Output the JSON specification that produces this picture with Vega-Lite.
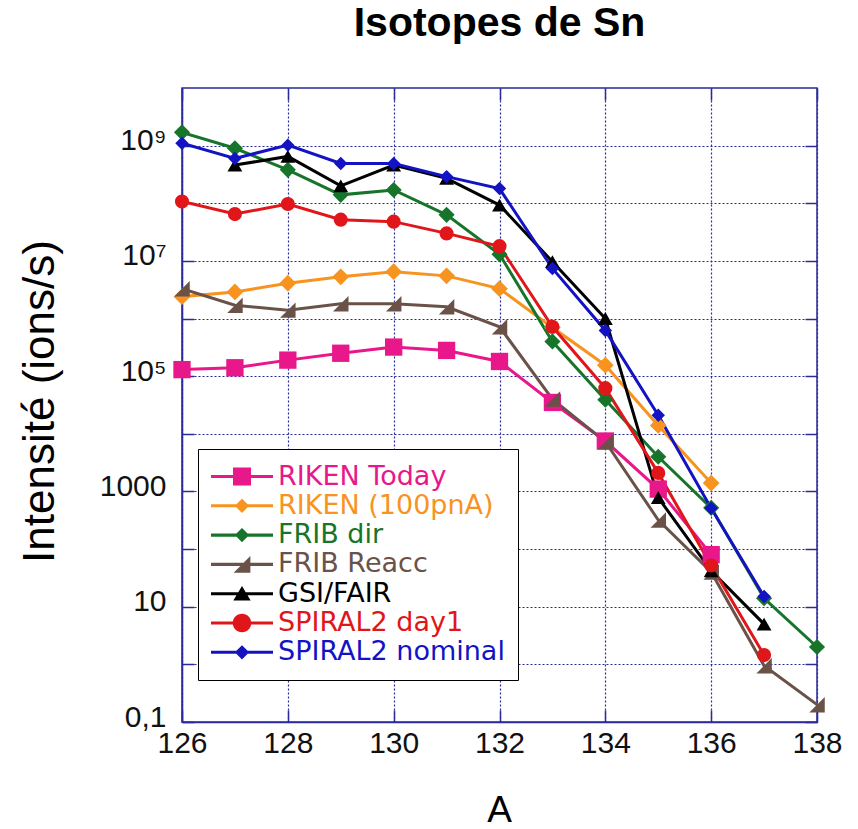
{
  "$schema": "https://vega.github.io/schema/vega-lite/v6.json",
  "autosize": {"type": "none"},
  "width": 635,
  "height": 634,
  "padding": {"left": 182, "top": 88, "right": 41, "bottom": 107},
  "background": "white",
  "config": {
    "view": {"stroke": "#2a2a9c", "strokeWidth": 1.5},
    "font": "Liberation Sans"
  },
  "title": {
    "text": "Isotopes de Sn",
    "font": "Liberation Sans",
    "fontSize": 41,
    "fontWeight": "bold",
    "color": "#000000",
    "baseline": "alphabetic",
    "anchor": "middle",
    "offset": 10
  },
  "data": {
    "values": [
      {"s": "RIKEN Today", "A": 126, "v": 130000},
      {"s": "RIKEN Today", "A": 127, "v": 140000},
      {"s": "RIKEN Today", "A": 128, "v": 190000},
      {"s": "RIKEN Today", "A": 129, "v": 250000},
      {"s": "RIKEN Today", "A": 130, "v": 320000},
      {"s": "RIKEN Today", "A": 131, "v": 280000},
      {"s": "RIKEN Today", "A": 132, "v": 180000},
      {"s": "RIKEN Today", "A": 133, "v": 35000},
      {"s": "RIKEN Today", "A": 134, "v": 7500},
      {"s": "RIKEN Today", "A": 135, "v": 1100},
      {"s": "RIKEN Today", "A": 136, "v": 80},
      {"s": "RIKEN (100pnA)", "A": 126, "v": 2400000},
      {"s": "RIKEN (100pnA)", "A": 127, "v": 2900000},
      {"s": "RIKEN (100pnA)", "A": 128, "v": 4100000},
      {"s": "RIKEN (100pnA)", "A": 129, "v": 5300000},
      {"s": "RIKEN (100pnA)", "A": 130, "v": 6500000},
      {"s": "RIKEN (100pnA)", "A": 131, "v": 5500000},
      {"s": "RIKEN (100pnA)", "A": 132, "v": 3300000},
      {"s": "RIKEN (100pnA)", "A": 133, "v": 700000},
      {"s": "RIKEN (100pnA)", "A": 134, "v": 155000},
      {"s": "RIKEN (100pnA)", "A": 135, "v": 14000},
      {"s": "RIKEN (100pnA)", "A": 136, "v": 1400},
      {"s": "FRIB dir", "A": 126, "v": 1700000000},
      {"s": "FRIB dir", "A": 127, "v": 900000000},
      {"s": "FRIB dir", "A": 128, "v": 380000000},
      {"s": "FRIB dir", "A": 129, "v": 140000000},
      {"s": "FRIB dir", "A": 130, "v": 170000000},
      {"s": "FRIB dir", "A": 131, "v": 63000000},
      {"s": "FRIB dir", "A": 132, "v": 13000000},
      {"s": "FRIB dir", "A": 133, "v": 400000},
      {"s": "FRIB dir", "A": 134, "v": 39000},
      {"s": "FRIB dir", "A": 135, "v": 4000},
      {"s": "FRIB dir", "A": 136, "v": 520},
      {"s": "FRIB dir", "A": 137, "v": 14},
      {"s": "FRIB dir", "A": 138, "v": 2},
      {"s": "FRIB Reacc", "A": 126, "v": 3300000},
      {"s": "FRIB Reacc", "A": 127, "v": 1700000},
      {"s": "FRIB Reacc", "A": 128, "v": 1400000},
      {"s": "FRIB Reacc", "A": 129, "v": 1800000},
      {"s": "FRIB Reacc", "A": 130, "v": 1800000},
      {"s": "FRIB Reacc", "A": 131, "v": 1600000},
      {"s": "FRIB Reacc", "A": 132, "v": 720000},
      {"s": "FRIB Reacc", "A": 133, "v": 40000},
      {"s": "FRIB Reacc", "A": 134, "v": 7300},
      {"s": "FRIB Reacc", "A": 135, "v": 320},
      {"s": "FRIB Reacc", "A": 136, "v": 40},
      {"s": "FRIB Reacc", "A": 137, "v": 0.95},
      {"s": "FRIB Reacc", "A": 138, "v": 0.2},
      {"s": "GSI/FAIR", "A": 127, "v": 460000000},
      {"s": "GSI/FAIR", "A": 128, "v": 650000000},
      {"s": "GSI/FAIR", "A": 129, "v": 200000000},
      {"s": "GSI/FAIR", "A": 130, "v": 460000000},
      {"s": "GSI/FAIR", "A": 131, "v": 270000000},
      {"s": "GSI/FAIR", "A": 132, "v": 93000000},
      {"s": "GSI/FAIR", "A": 133, "v": 9700000},
      {"s": "GSI/FAIR", "A": 134, "v": 1000000},
      {"s": "GSI/FAIR", "A": 135, "v": 780},
      {"s": "GSI/FAIR", "A": 136, "v": 42},
      {"s": "GSI/FAIR", "A": 137, "v": 5},
      {"s": "SPIRAL2 day1", "A": 126, "v": 107000000},
      {"s": "SPIRAL2 day1", "A": 127, "v": 65000000},
      {"s": "SPIRAL2 day1", "A": 128, "v": 97000000},
      {"s": "SPIRAL2 day1", "A": 129, "v": 52000000},
      {"s": "SPIRAL2 day1", "A": 130, "v": 48000000},
      {"s": "SPIRAL2 day1", "A": 131, "v": 30000000},
      {"s": "SPIRAL2 day1", "A": 132, "v": 18000000},
      {"s": "SPIRAL2 day1", "A": 133, "v": 720000},
      {"s": "SPIRAL2 day1", "A": 134, "v": 62000},
      {"s": "SPIRAL2 day1", "A": 135, "v": 2100},
      {"s": "SPIRAL2 day1", "A": 136, "v": 52},
      {"s": "SPIRAL2 day1", "A": 137, "v": 1.45},
      {"s": "SPIRAL2 nominal", "A": 126, "v": 1100000000},
      {"s": "SPIRAL2 nominal", "A": 127, "v": 600000000},
      {"s": "SPIRAL2 nominal", "A": 128, "v": 1020000000},
      {"s": "SPIRAL2 nominal", "A": 129, "v": 490000000},
      {"s": "SPIRAL2 nominal", "A": 130, "v": 490000000},
      {"s": "SPIRAL2 nominal", "A": 131, "v": 290000000},
      {"s": "SPIRAL2 nominal", "A": 132, "v": 180000000},
      {"s": "SPIRAL2 nominal", "A": 133, "v": 7400000},
      {"s": "SPIRAL2 nominal", "A": 134, "v": 620000},
      {"s": "SPIRAL2 nominal", "A": 135, "v": 21000},
      {"s": "SPIRAL2 nominal", "A": 136, "v": 510},
      {"s": "SPIRAL2 nominal", "A": 137, "v": 15}
    ]
  },
  "resolve": {"axis": {"x": "independent", "y": "independent"}},
  "layer": [
    {
      "mark": {"type": "line", "strokeWidth": 3, "clip": true},
      "encoding": {
        "x": {
          "field": "A", "type": "quantitative",
          "scale": {"domain": [126, 138], "nice": false, "zero": false},
          "axis": {
            "values": [126, 128, 130, 132, 134, 136, 138],
            "title": "A",
            "titleFont": "Liberation Sans",
            "titleFontSize": 37,
            "titleFontWeight": "normal",
            "titleColor": "#000000",
            "titleX": 317,
            "titleY": 99,
            "titleBaseline": "alphabetic",
            "titleAlign": "center",
            "labelFont": "Liberation Sans",
            "labelFontSize": 30,
            "labelColor": "#111111",
            "labelPadding": 18,
            "labelFlush": false,
            "labelOverlap": false,
            "tickSize": -12,
            "tickColor": "#2a2a9c",
            "tickWidth": 1.5,
            "domainColor": "#2a2a9c",
            "domainWidth": 1.5,
            "grid": true,
            "gridColor": "#2a2a9c",
            "gridDash": [2, 2],
            "gridWidth": 1.2,
            "gridOpacity": 1
          }
        },
        "y": {
          "field": "v", "type": "quantitative",
          "scale": {"type": "log", "domain": [0.1, 10000000000], "nice": false},
          "axis": {
            "values": [0.1, 1, 10, 100, 1000, 10000, 100000, 1000000, 10000000, 100000000, 1000000000],
            "labelExpr": "datum.value < 0.5 ? '0,1' : (datum.value > 5 && datum.value < 50) ? '10' : (datum.value > 500 && datum.value < 5000) ? '1000' : (datum.value > 50000 && datum.value < 500000) ? '10\u2075' : (datum.value > 5000000 && datum.value < 50000000) ? '10\u2077' : (datum.value > 500000000 && datum.value < 5000000000) ? '10\u2079' : ''",
            "title": "Intensité (ions/s)",
            "titleFont": "Liberation Sans",
            "titleFontSize": 44,
            "titleFontWeight": "normal",
            "titleColor": "#000000",
            "titleX": -129,
            "titleY": 313,
            "titleAngle": -90,
            "titleAlign": "center",
            "titleBaseline": "alphabetic",
            "labelFont": "Liberation Sans",
            "labelFontSize": 30,
            "labelColor": "#111111",
            "labelPadding": 28,
            "labelOffset": -5,
            "labelFlush": false,
            "labelOverlap": false,
            "labelBaseline": "middle",
            "tickSize": -12,
            "tickColor": "#2a2a9c",
            "tickWidth": 1.5,
            "domainColor": "#2a2a9c",
            "domainWidth": 1.5,
            "grid": true,
            "gridColor": "#2a2a9c",
            "gridDash": [2, 2],
            "gridWidth": 1.2,
            "gridOpacity": 1
          }
        },
        "stroke": {
          "field": "s", "type": "nominal",
          "scale": {
            "domain": ["RIKEN Today", "RIKEN (100pnA)", "FRIB dir", "FRIB Reacc", "GSI/FAIR", "SPIRAL2 day1", "SPIRAL2 nominal"],
            "range": ["#e8178a", "#f7931e", "#17752b", "#6a5248", "#000000", "#e0161b", "#1313c4"]
          },
          "legend": {
            "orient": "none",
            "legendX": 16,
            "legendY": 361,
            "title": null,
            "symbolType": "stroke",
            "symbolSize": 3844,
            "symbolStrokeWidth": 0,
            "clipHeight": 29,
            "rowPadding": 0.3,
            "labelFont": "DejaVu Sans",
            "labelFontSize": 27,
            "labelOffset": 5,
            "labelLimit": 500,
            "padding": 13,
            "strokeColor": "#000000",
            "fillColor": "#ffffff",
            "encode": {
              "labels": {"update": {"fill": {"scale": "stroke", "field": "value"}}},
              "symbols": {"update": {
                "fill": {"scale": "stroke", "field": "value"},
                "strokeWidth": {"value": 0},
                "shape": {"signal": "datum.value === 'RIKEN Today' ? 'M-1,-0.05H1V0.05H-1Z M-0.29,-0.29H0.29V0.29H-0.29Z' : (datum.value === 'FRIB Reacc') ? 'M-1,-0.05H1V0.05H-1Z M0.27,-0.27L0.27,0.27L-0.27,0.27Z' : (datum.value === 'GSI/FAIR') ? 'M-1,-0.05H1V0.05H-1Z M0,-0.25L0.28,0.22L-0.28,0.22Z' : (datum.value === 'SPIRAL2 day1') ? 'M-1,-0.05H1V0.05H-1Z M-0.3,0A0.3,0.3,0,1,1,0.3,0A0.3,0.3,0,1,1,-0.3,0Z' : 'M-1,-0.05H1V0.05H-1Z M0,-0.23L0.23,0L0,0.23L-0.23,0Z'"}
              }}
            }
          }
        }
      }
    },
    {
      "mark": {"type": "point", "filled": true, "opacity": 1, "clip": false},
      "encoding": {
        "x": {
          "field": "A", "type": "quantitative",
          "axis": {
            "orient": "top",
            "values": [126, 128, 130, 132, 134, 136, 138],
            "labels": false,
            "title": null,
            "grid": false,
            "domain": false,
            "tickSize": -12,
            "tickColor": "#2a2a9c",
            "tickWidth": 1.5
          }
        },
        "y": {
          "field": "v", "type": "quantitative",
          "axis": {
            "orient": "right",
            "values": [0.1, 1, 10, 100, 1000, 10000, 100000, 1000000, 10000000, 100000000, 1000000000],
            "labels": false,
            "title": null,
            "grid": false,
            "domain": false,
            "tickSize": -12,
            "tickColor": "#2a2a9c",
            "tickWidth": 1.5
          }
        },
        "fill": {
          "field": "s", "type": "nominal", "sort": null,
          "scale": {"range": ["#e8178a", "#f7931e", "#17752b", "#6a5248", "#000000", "#e0161b", "#1313c4"]},
          "legend": null
        },
        "shape": {
          "field": "s", "type": "nominal", "sort": null,
          "scale": {"range": ["square", "diamond", "diamond", "M1,-1L1,1L-1,1Z", "triangle-up", "circle", "diamond"]},
          "legend": null
        },
        "size": {
          "field": "s", "type": "nominal", "sort": null,
          "scale": {"range": [300, 180, 190, 260, 240, 330, 220]},
          "legend": null
        }
      }
    }
  ]
}
